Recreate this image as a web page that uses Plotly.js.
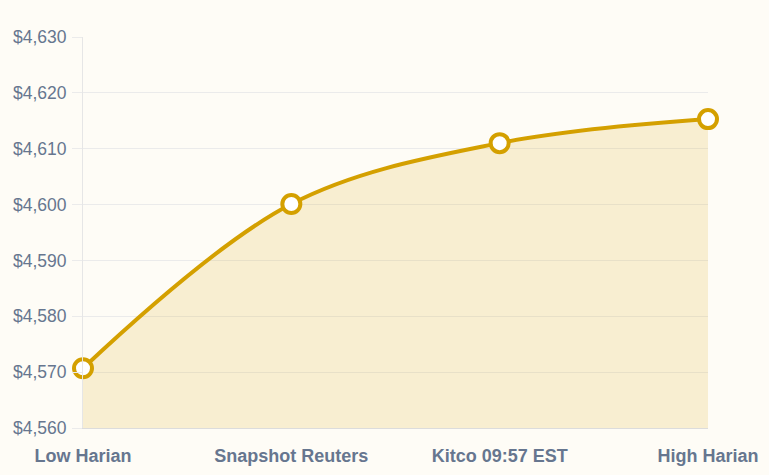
<!DOCTYPE html>
<html><head><meta charset="utf-8">
<script src="https://cdn.plot.ly/plotly-3.0.1.min.js"></script>
<style>html,body{margin:0;padding:0;background:#fefcf6;}#chart{width:769px;height:475px;}</style>
</head><body><div id="chart"></div>
<script>
const categories = ["Low Harian", "Snapshot Reuters", "Kitco 09:57 EST", "High Harian"];
const prices = [4570.7, 4600.1, 4611.0, 4615.3];
const yTicks = [4560, 4570, 4580, 4590, 4600, 4610, 4620, 4630];

const trace = {
  x: categories, y: prices, type: 'scatter', mode: 'lines+markers',
  line: {color: '#d4a000', width: 4, shape: 'spline', smoothing: 1},
  fill: 'tozeroy', fillcolor: 'rgba(212,160,0,0.15)',
  marker: {size: 18, color: '#ffffff', line: {color: '#d4a000', width: 4}},
  cliponaxis: false, hoverinfo: 'skip'
};
const layout = {
  width: 769, height: 475,
  margin: {l: 83, r: 61, t: 37, b: 47},
  paper_bgcolor: '#fefcf6', plot_bgcolor: 'rgba(0,0,0,0)',
  showlegend: false,
  font: {family: 'Liberation Sans, Arial, sans-serif', color: '#66768f'},
  xaxis: {
    type: 'category', range: [0, 3], showgrid: false, zeroline: false,
    showline: true, linecolor: '#dcdcdc', linewidth: 1,
    ticks: 'outside', ticklen: 11, tickcolor: 'rgba(0,0,0,0)',
    tickfont: {size: 18, color: '#66768f', family: 'Liberation Sans, Arial, sans-serif', weight: 'bold'}
  },
  yaxis: {
    range: [4560, 4630], tickvals: yTicks,
    ticktext: yTicks.map(v => '$' + v.toLocaleString('en-US')),
    showgrid: true, gridcolor: '#ebebeb', gridwidth: 1, zeroline: false,
    showline: true, linecolor: '#e6e6e6', linewidth: 1,
    ticks: 'outside', ticklen: 10, tickcolor: '#ebebeb',
    ticklabelstandoff: 2,
    tickfont: {size: 17.5, color: '#66768f'}
  }
};
Plotly.newPlot('chart', [trace], layout, {displayModeBar: false, staticPlot: true});
</script></body></html>
